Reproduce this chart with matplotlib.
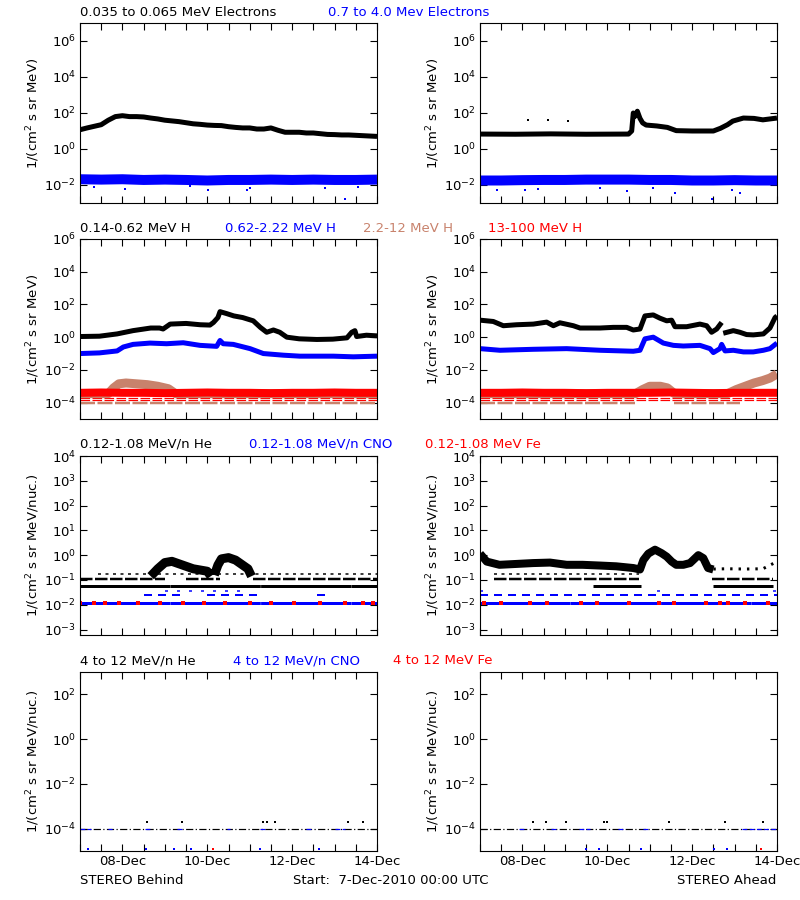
import numpy as np
import matplotlib
matplotlib.use('Agg')
import matplotlib.pyplot as plt
from matplotlib.ticker import NullLocator

plt.rcParams['font.family'] = ['DejaVu Sans']
plt.rcParams['mathtext.fontset'] = 'dejavusans'

TAN = '#c8826c'
BLUE = '#0000ff'
RED = '#ff0000'

# time axis: hours since 7-Dec-2010 00:00 UTC, values are log10 of flux
t4 = [0, 4, 8, 12, 16, 20, 24, 28, 32, 36, 40, 44, 48, 52, 56, 60, 64, 68, 72, 76, 80,
      84, 88, 92, 96, 100, 104, 108, 112, 116, 120, 124, 128, 132, 136, 140, 144, 148,
      152, 156, 160, 164, 168]
t12 = [0, 12, 24, 36, 48, 60, 72, 84, 96, 108, 120, 132, 144, 156, 168]

# ---- electrons
beh_e_lo = [1.07, 1.17, 1.26, 1.35, 1.6, 1.8, 1.85, 1.8, 1.8, 1.78, 1.72, 1.67, 1.6, 1.56,
            1.52, 1.46, 1.4, 1.37, 1.33, 1.31, 1.3, 1.24, 1.2, 1.17, 1.17, 1.11, 1.11, 1.17,
            1.04, 0.93, 0.93, 0.93, 0.89, 0.89, 0.85, 0.81, 0.8, 0.78, 0.78, 0.76, 0.74,
            0.72, 0.7]
beh_e_hi = [-1.68, -1.7, -1.68, -1.72, -1.7, -1.72, -1.75, -1.72, -1.72, -1.7, -1.72,
            -1.7, -1.72, -1.72, -1.7]
beh_e_hi_out_t = [8.1, 25.5, 62.2, 72.6, 94.3, 96.2, 138.6, 149.9, 157.4]
beh_e_hi_out = [-2.11, -2.2, -2.07, -2.3, -2.26, -2.17, -2.17, -2.78, -2.11]

ahd_e_lo_t = [0, 20, 40, 60, 84, 85.8, 86.7, 87.5, 89, 90.5, 92, 94, 100, 106, 111, 120,
              132, 136, 140, 143, 149, 155, 160, 168]
ahd_e_lo = [0.83, 0.82, 0.84, 0.82, 0.83, 1.0, 2.0, 1.8, 2.1, 1.7, 1.45, 1.33, 1.28, 1.2,
            1.02, 1.0, 1.0, 1.15, 1.35, 1.55, 1.72, 1.7, 1.62, 1.72]
ahd_e_lo_out_t = [27.0, 38.6, 50.0]
ahd_e_lo_out = [1.6, 1.6, 1.55]
ahd_e_hi = [-1.75, -1.75, -1.73, -1.72, -1.72, -1.7, -1.7, -1.7, -1.72, -1.72, -1.75,
            -1.75, -1.73, -1.75, -1.75]
ahd_e_hi_out_t = [9.4, 25.5, 33.0, 67.9, 83.0, 98.0, 110.3, 131.0, 142.3, 147.0]
ahd_e_hi_out = [-2.26, -2.3, -2.22, -2.17, -2.35, -2.17, -2.44, -2.78, -2.3, -2.44]

# ---- protons
beh_h1_t = [0, 11, 21, 30, 40, 45, 47, 51, 60, 68, 73.5, 75.5, 78, 79.2, 83, 87, 92, 98,
            102, 105.6, 109.4, 113, 117, 124, 134, 143, 151, 153.7, 155.5, 156.5, 162, 168]
beh_h1 = [0.04, 0.06, 0.2, 0.4, 0.56, 0.56, 0.5, 0.8, 0.84, 0.76, 0.74, 0.9, 1.2, 1.56,
          1.44, 1.3, 1.2, 1.0, 0.6, 0.3, 0.44, 0.3, 0.0, -0.1, -0.14, -0.12, -0.04, 0.3,
          0.4, 0.04, 0.12, 0.08]
beh_h2_t = [0, 11, 21, 24.5, 30, 39.6, 49, 58.4, 67.9, 77.3, 79.2, 81, 86.7, 96.2, 103.7,
            115, 124.4, 143.3, 154.6, 168]
beh_h2 = [-1.0, -0.96, -0.84, -0.6, -0.44, -0.36, -0.4, -0.34, -0.5, -0.56, -0.2, -0.4,
          -0.44, -0.7, -1.0, -1.1, -1.16, -1.16, -1.2, -1.16]
beh_h3_t = [0, 16, 19, 22, 26, 32, 38, 44, 50, 54, 168]
beh_h3 = [-3.45, -3.45, -3.1, -2.85, -2.8, -2.85, -2.9, -3.0, -3.15, -3.45, -3.45]
beh_h4 = [-3.4, -3.38, -3.4, -3.4, -3.42, -3.4, -3.38, -3.4, -3.4, -3.42, -3.4, -3.4,
          -3.38, -3.4, -3.4]

ahd_h1_t = [0, 7.5, 13.2, 20.7, 30.2, 37.7, 41.5, 45.2, 52.8, 56.6, 67.9, 75.4, 83, 86.7,
            90.5, 93.3, 98, 101.8, 105.6, 108.4, 110.3, 116.9, 124.4, 128.2, 131, 133.9,
            136.7, 137.2, 137.6, 143.3, 147, 150.8, 154.6, 160.3, 164, 166.9, 168]
ahd_h1 = [1.04, 0.96, 0.7, 0.76, 0.8, 0.92, 0.7, 0.88, 0.7, 0.56, 0.56, 0.6, 0.6, 0.44,
          0.5, 1.3, 1.36, 1.16, 1.0, 1.04, 0.64, 0.64, 0.8, 0.7, 0.3, 0.5, 0.9, np.nan,
          0.24, 0.4, 0.3, 0.16, 0.14, 0.2, 0.56, 1.2, 1.3]
ahd_h2_t = [0, 11.3, 30.2, 49, 67.9, 86.7, 90.5, 93.3, 98, 103.7, 109.4, 115, 124.4,
            130.1, 132, 135.7, 136.7, 138.6, 143.3, 149, 154.6, 160.3, 164, 168]
ahd_h2 = [-0.7, -0.8, -0.74, -0.7, -0.8, -0.86, -0.8, -0.1, 0.0, -0.36, -0.5, -0.54, -0.5,
          -0.7, -0.94, -0.7, -0.44, -0.84, -0.8, -0.9, -0.9, -0.8, -0.7, -0.36]
ahd_h3_t = [0, 88, 92, 96, 102, 106, 110, 140, 145, 150, 155, 160, 164, 168]
ahd_h3 = [-3.45, -3.45, -3.2, -3.0, -3.0, -3.1, -3.45, -3.45, -3.2, -3.0, -2.8, -2.65,
          -2.5, -2.25]
ahd_h4 = [-3.4, -3.4, -3.38, -3.4, -3.4, -3.42, -3.4, -3.4, -3.4, -3.38, -3.4, -3.42,
          -3.4, -3.4, -3.4]

# single-count levels (log10) in the proton panels
h3_level = -4.02
h4_levels = [-3.72, -3.86]

# ---- low energy heavy ions
beh_he_t = [40, 44, 48, 52, 56, 60, 64, 68, 72, 74, np.nan, 76, 78, 80, 84, 88, 92, 95, 97]
beh_he = [-0.85, -0.55, -0.3, -0.25, -0.35, -0.45, -0.55, -0.6, -0.65, -0.85, np.nan,
          -0.8, -0.4, -0.15, -0.1, -0.2, -0.4, -0.55, -0.85]
ahd_he_t = [0, 3.8, 11, 30, 39.6, 49, 58, 68, 77, 86.7, 90.5, 92.4, 95.2, 99, 102.7,
            105.6, 108.4, 111, 115, 118.8, 123.5, 126.3, 129, 132]
ahd_he = [0.06, -0.26, -0.39, -0.32, -0.3, -0.39, -0.39, -0.42, -0.45, -0.52, -0.58,
          -0.2, 0.06, 0.22, 0.08, -0.06, -0.26, -0.39, -0.39, -0.32, 0.0, -0.12, -0.52,
          -0.58]
ahd_he_tail_t = [132, 140, 150, 160, 166.9, 168]
ahd_he_tail = [-0.56, -0.55, -0.56, -0.55, -0.3, -0.35]
he_levels = [-0.78, -0.97, -1.26]
beh_he_lvl_spans = [[(10, 168)], [(0, 48), (60, 79), (98, 168)], [(0, 168)]]
ahd_he_lvl_spans = [[(8, 90)], [(8, 90), (131, 166)], [(64, 91), (132, 166)]]
cno_levels = [-1.43, -1.62, -1.95]
beh_cno_lvl_spans = [[(48, 95)], [(36, 60), (72, 100), (134, 140)], [(0, 168)]]
ahd_cno_lvl_spans = [[(0, 2), (100, 103), (166, 168)], [(0, 168)], [(0, 168)]]
fe_level = -1.95
beh_fe_t = [0, 8, 14, 22, 33, 45, 58, 70, 82, 96, 108, 121, 136, 150, 160, 166]
ahd_fe_t = [2, 12, 28, 38, 57, 66, 84, 101, 110, 128, 136, 140, 150, 163]

# ---- high energy heavy ions
he4_level = -4.0
beh_he4_pts_t = [37.7, 57.5, 103.7, 105.6, 110.3, 151.4, 160.3]
ahd_he4_pts_t = [30.2, 37.1, 48.5, 70.0, 72.0, 107.0, 138.6, 160.0]
he4_pts = -3.7
beh_cno4_pts_t = [4.7, 37.1, 53.0, 62.6, 102.0, 135.4]
ahd_cno4_pts_t = [59.8, 67.5, 90.9, 132.4, 139.5]
cno4_pts = -4.93
beh_fe4_pts_t = [75.4]
ahd_fe4_pts_t = [159.0]
beh_cno4_seg_t = [(0, 6), (16, 18), (37, 40), (55, 58), (83, 85), (102, 106), (128, 131),
                  (144, 150)]
ahd_cno4_seg_t = [(22, 26), (40, 44), (56, 62), (78, 82), (92, 96), (148, 168)]

PX = 0.72  # points per pixel at dpi 100
FS = 9.5


def band(ax, t, v, color, px, ls='-'):
    ax.plot(t, 10.0 ** np.asarray(v, dtype=float), color=color, lw=px * PX, ls=ls,
            solid_capstyle='butt', solid_joinstyle='round')


def dots(ax, t, v, color, px=2.5):
    vv = np.full(len(t), v) if np.isscalar(v) else np.asarray(v)
    ax.plot(t, 10.0 ** vv, 's', color=color, ms=px * PX, mew=0)


def level(ax, spans, v, color, px=2.5, dash=(4, 1)):
    for a, b in spans:
        ax.plot([a, b], [10.0 ** v, 10.0 ** v], color=color, lw=px * PX,
                ls=(0, dash), dash_capstyle='butt')


fig = plt.figure(figsize=(8, 9), dpi=100)
W, H = 800.0, 900.0
col_x = [80, 480]
rows = [(23, 203), (239, 419), (456, 635), (672, 851)]
ylims = [(1e-3, 1e7), (1e-5, 1e6), (6e-4, 1e4), (1e-5, 1e3)]
yticks = [[-2, 0, 2, 4, 6], [-4, -2, 0, 2, 4, 6], [-3, -2, -1, 0, 1, 2, 3, 4],
          [-4, -2, 0, 2]]
ylab = ['1/(cm$^2$ s sr MeV)', '1/(cm$^2$ s sr MeV)', '1/(cm$^2$ s sr MeV/nuc.)',
        '1/(cm$^2$ s sr MeV/nuc.)']

axes = {}
for r, (top, bot) in enumerate(rows):
    for c, x0 in enumerate(col_x):
        ax = fig.add_axes([x0 / W, 1 - bot / H, 297 / W, (bot - top) / H])
        ax.set_yscale('log')
        ax.set_ylim(*ylims[r])
        ax.set_xlim(0, 168)
        ax.set_yticks([10.0 ** e for e in yticks[r]])
        ax.set_yticklabels(['10$^{%d}$' % e for e in yticks[r]], fontsize=FS)
        ax.yaxis.set_minor_locator(NullLocator())
        ax.set_xticks(t12)
        if r == 3:
            ax.set_xticklabels(['08-Dec' if t == 24 else '10-Dec' if t == 72 else
                                '12-Dec' if t == 120 else '14-Dec' if t == 168 else ''
                                for t in t12], fontsize=FS)
        else:
            ax.set_xticklabels([])
        ax.tick_params(direction='in', length=5, width=0.8, top=True, right=True,
                       pad=3)
        for s in ax.spines.values():
            s.set_linewidth(0.8)
        fig.text((x0 - 47) / W, 1 - (top + bot) / 2 / H, ylab[r], rotation=90,
                 ha='center', va='center', fontsize=FS)
        axes[(r, c)] = ax

# row 1: electrons
ax = axes[(0, 0)]
band(ax, t12, beh_e_hi, BLUE, 10)
dots(ax, beh_e_hi_out_t, beh_e_hi_out, BLUE)
band(ax, t4, beh_e_lo, 'k', 5)
ax = axes[(0, 1)]
band(ax, t12, ahd_e_hi, BLUE, 10)
dots(ax, ahd_e_hi_out_t, ahd_e_hi_out, BLUE)
band(ax, ahd_e_lo_t, ahd_e_lo, 'k', 5)
dots(ax, ahd_e_lo_out_t, ahd_e_lo_out, 'k')

# row 2: protons
for c, (h1t, h1, h2t, h2, h3t, h3, h4, h3span) in enumerate([
        (beh_h1_t, beh_h1, beh_h2_t, beh_h2, beh_h3_t, beh_h3, beh_h4, [(0, 168)]),
        (ahd_h1_t, ahd_h1, ahd_h2_t, ahd_h2, ahd_h3_t, ahd_h3, ahd_h4,
         [(0, 88), (110, 147)])]):
    ax = axes[(1, c)]
    level(ax, h3span, h3_level, TAN, 2.5, (6, 1))
    for lv in h4_levels:
        level(ax, [(0, 168)], lv, RED, 1.2, (8, 2))
    band(ax, h3t, h3, TAN, 9)
    band(ax, t12, h4, RED, 8)
    band(ax, h2t, h2, BLUE, 5)
    band(ax, h1t, h1, 'k', 5)

# row 3: low energy heavy ions
for c, (het, he, hesp, cnosp, fet, cw) in enumerate([
        (beh_he_t, beh_he, beh_he_lvl_spans, beh_cno_lvl_spans, beh_fe_t, 9),
        (ahd_he_t, ahd_he, ahd_he_lvl_spans, ahd_cno_lvl_spans, ahd_fe_t, 8)]):
    ax = axes[(2, c)]
    for lv, sp, px, dash in zip(he_levels, hesp, [1.5, 2.5, 3], [(2, 3), (5, 1), (30, 0.1)]):
        level(ax, sp, lv, 'k', px, dash)
    for lv, sp, px, dash in zip(cno_levels, cnosp, [1.5, 2, 3], [(2, 6), (4, 3), (30, 0.1)]):
        level(ax, sp, lv, BLUE, px, dash)
    dots(ax, fet, fe_level, RED, 3.5)
    band(ax, het, he, 'k', cw)
ax = axes[(2, 1)]
band(ax, ahd_he_tail_t, ahd_he_tail, 'k', 3, (0, (0.8, 2)))

# row 4: high energy heavy ions
for c, (hp, cp, fp, cseg) in enumerate([
        (beh_he4_pts_t, beh_cno4_pts_t, beh_fe4_pts_t, beh_cno4_seg_t),
        (ahd_he4_pts_t, ahd_cno4_pts_t, ahd_fe4_pts_t, ahd_cno4_seg_t)]):
    ax = axes[(3, c)]
    level(ax, [(0, 168)], he4_level, 'k', 1.2, (6, 2, 1, 2))
    level(ax, cseg, he4_level, BLUE, 1.2, (4, 2))
    dots(ax, hp, he4_pts, 'k', 2.5)
    dots(ax, cp, cno4_pts, BLUE, 2.5)
    dots(ax, fp, cno4_pts, RED, 2.5)

# row titles, coloured segments
titles = [
    (13, [(80, '0.035 to 0.065 MeV Electrons', 'k'), (328, '0.7 to 4.0 Mev Electrons', BLUE)]),
    (229, [(80, '0.14-0.62 MeV H', 'k'), (225, '0.62-2.22 MeV H', BLUE),
           (363, '2.2-12 MeV H', TAN), (488, '13-100 MeV H', RED)]),
    (444, [(80, '0.12-1.08 MeV/n He', 'k'), (249, '0.12-1.08 MeV/n CNO', BLUE),
           (425, '0.12-1.08 MeV Fe', RED)]),
    (661, [(80, '4 to 12 MeV/n He', 'k'), (233, '4 to 12 MeV/n CNO', BLUE),
           (393, '4 to 12 MeV Fe', RED)]),
]
for y, parts in titles:
    for x, s, col in parts:
        fig.text(x / W, 1 - y / H, s, color=col, fontsize=FS, ha='left', va='center')

fig.text(80 / W, 1 - 881 / H, 'STEREO Behind', fontsize=FS, ha='left', va='center')
fig.text(293 / W, 1 - 881 / H, 'Start:  7-Dec-2010 00:00 UTC', fontsize=FS, ha='left',
         va='center')
fig.text(776 / W, 1 - 881 / H, 'STEREO Ahead', fontsize=FS, ha='right', va='center')

fig.savefig('out.png', dpi=100, facecolor='white')
